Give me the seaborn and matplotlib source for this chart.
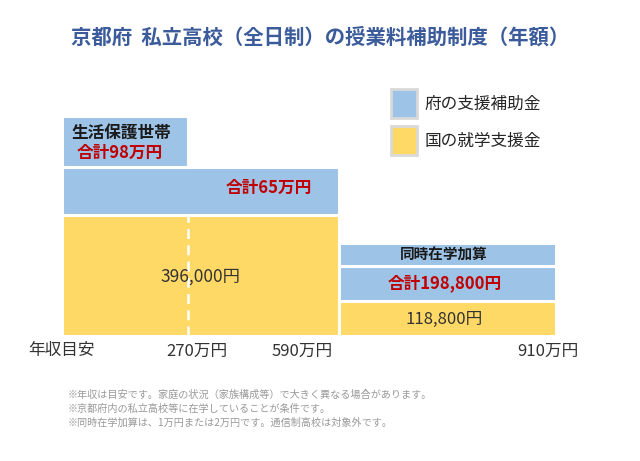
import matplotlib

matplotlib.use("Agg")

import matplotlib.pyplot as plt
import matplotlib.transforms as mtransforms
from matplotlib.patches import Patch
import numpy as np
import pandas as pd
import seaborn as sns


TITLE = "京都府  私立高校（全日制）の授業料補助制度（年額）"

# income bands (万円)
BAND_EDGES = [0, 590, 910]
# yearly amounts per band (円)
NATIONAL = [396000, 118800]   # 国の就学支援金
PREF = [254000, 80000]        # 府の支援補助金
TOTAL = [650000, 198800]

# 生活保護世帯 (income up to 270万円)
WELFARE_LIMIT = 270
WELFARE_TOTAL = 980000
# 同時在学加算 (1万円 or 2万円)
SIBLING_ADD = 20000

TICK_VALUES = [0, 270, 590, 910]
TICK_LABELS = ["年収目安", "270万円", "590万円", "910万円"]
LEGEND_LABELS = ["府の支援補助金", "国の就学支援金"]

NOTES = [
    "※年収は目安です。家庭の状況（家族構成等）で大きく異なる場合があります。",
    "※京都府内の私立高校等に在学していることが条件です。",
    "※同時在学加算は、1万円または2万円です。通信制高校は対象外です。",
]

BLUE = "#9DC3E6"
YELLOW = "#FFD966"
RED = "#C00000"
TITLE_COLOR = "#3B5B9B"

# schematic (non-proportional) scales used by the original drawing
X_KNOTS = ([0, 590, 910], [0, 277, 494])
Y_KNOTS = ([0, 118800, 198800, 218800, 396000, 650000, 980000],
           [0, 35, 70, 93, 121, 169, 220])


def fwd(k):
    return lambda v: np.interp(v, k[0], k[1])


def inv(k):
    return lambda v: np.interp(v, k[1], k[0])


fx, ix = fwd(X_KNOTS), inv(X_KNOTS)
fy, iy = fwd(Y_KNOTS), inv(Y_KNOTS)


def xmid(lo, hi):
    return float(ix((fx(lo) + fx(hi)) / 2))


def ymid(lo, hi):
    return float(iy((fy(lo) + fy(hi)) / 2))


sns.set_theme(style="white")
plt.rcParams["font.family"] = ["Noto Sans CJK JP", "DejaVu Sans"]

fig = plt.figure(figsize=(6.4, 4.61), dpi=100)
ax = fig.add_axes([0.0961, 0.2722, 0.7719, 0.4772])

mids = [(a + b) / 2 for a, b in zip(BAND_EDGES[:-1], BAND_EDGES[1:])]
df = pd.DataFrame({
    "income": mids * 2,
    "amount": NATIONAL + PREF,
    "source": [LEGEND_LABELS[1]] * 2 + [LEGEND_LABELS[0]] * 2,
})
sns.histplot(
    data=df, x="income", weights="amount", hue="source",
    hue_order=LEGEND_LABELS, palette=[BLUE, YELLOW],
    bins=BAND_EDGES, multiple="stack", alpha=1,
    edgecolor="white", linewidth=2.2, legend=False, ax=ax,
)

# extra boxes on top
ax.bar(0, WELFARE_TOTAL - TOTAL[0], width=WELFARE_LIMIT, bottom=TOTAL[0],
       align="edge", color=BLUE, edgecolor="white", linewidth=2.2)
ax.bar(BAND_EDGES[1], SIBLING_ADD, width=BAND_EDGES[2] - BAND_EDGES[1],
       bottom=TOTAL[1], align="edge", color=BLUE, edgecolor="white", linewidth=2.2)

ax.vlines(WELFARE_LIMIT, 0, NATIONAL[0], colors="white",
          linestyles=(0, (4, 2.5)), linewidth=1.8)

ax.set_xscale("function", functions=(fx, ix))
ax.set_yscale("function", functions=(fy, iy))
ax.set_xlim(BAND_EDGES[0], BAND_EDGES[-1])
ax.set_ylim(0, WELFARE_TOTAL)

for s in ax.spines.values():
    s.set_visible(False)
ax.set_yticks([])
ax.set_ylabel("")
ax.set_xlabel("")
ax.set_xticks(TICK_VALUES)
ax.set_xticklabels(TICK_LABELS)
ax.xaxis.set_minor_locator(matplotlib.ticker.NullLocator())
ax.tick_params(axis="x", length=0, pad=5, labelsize=12, labelcolor="#333333")
for lab, dx in zip(ax.get_xticklabels(), [0, 9, -36, -8]):
    lab.set_transform(lab.get_transform()
                      + mtransforms.ScaledTranslation(dx / 100, 0, fig.dpi_scale_trans))

# labels inside the boxes
def put(text, x, y, dx=0, dy=0, ha="center", **kw):
    ax.annotate(text, xy=(x, y), xytext=(dx, dy), textcoords="offset points",
                ha=ha, va="center", **kw)


put("生活保護世帯", xmid(0, WELFARE_LIMIT), ymid(TOTAL[0], WELFARE_TOTAL), -2.5, 6,
    fontsize=12, fontweight="bold", color="#1a1a1a")
put("合計98万円", xmid(0, WELFARE_LIMIT), ymid(TOTAL[0], WELFARE_TOTAL), -3.6, -8.3,
    fontsize=12, fontweight="bold", color=RED)
put("合計65万円", BAND_EDGES[1], ymid(NATIONAL[0], TOTAL[0]), -19, 1.8, ha="right",
    fontsize=12, fontweight="bold", color=RED)
put(f"{NATIONAL[0]:,}円", xmid(0, BAND_EDGES[1]), ymid(0, NATIONAL[0]), 0, -1.4,
    fontsize=12.5, color="#333333")
put("同時在学加算", xmid(BAND_EDGES[1], BAND_EDGES[2]), ymid(TOTAL[1], TOTAL[1] + SIBLING_ADD), -2, -0.7,
    fontsize=10.5, fontweight="bold", color="#1a1a1a")
put(f"合計{TOTAL[1]:,}円", xmid(BAND_EDGES[1], BAND_EDGES[2]), ymid(NATIONAL[1], TOTAL[1]), -2, 0,
    fontsize=12, fontweight="bold", color=RED)
put(f"{NATIONAL[1]:,}円", xmid(BAND_EDGES[1], BAND_EDGES[2]), ymid(0, NATIONAL[1]), -2, -0.7,
    fontsize=12, color="#333333")

handles = [Patch(facecolor=c, edgecolor="#d9d9d9", linewidth=2) for c in (BLUE, YELLOW)]
fig.legend(handles, LEGEND_LABELS, loc="upper left", bbox_to_anchor=(390.5 / 640, 1 - 89.5 / 461),
           frameon=False, fontsize=12, borderpad=0, borderaxespad=0,
           handlelength=1.6, handleheight=2.25, labelspacing=0.5, handletextpad=0.45,
           labelcolor="#262626")

fig.text(0.5, 1 - 37 / 461, TITLE, ha="center", va="center", fontsize=14.7,
         fontweight="bold", color=TITLE_COLOR)

for i, note in enumerate(NOTES):
    fig.text(68 / 640, 1 - (395 + 14 * i) / 461, note, ha="left", va="center",
             fontsize=7.3, color="#999999")

fig.savefig("out.png", dpi=100)
